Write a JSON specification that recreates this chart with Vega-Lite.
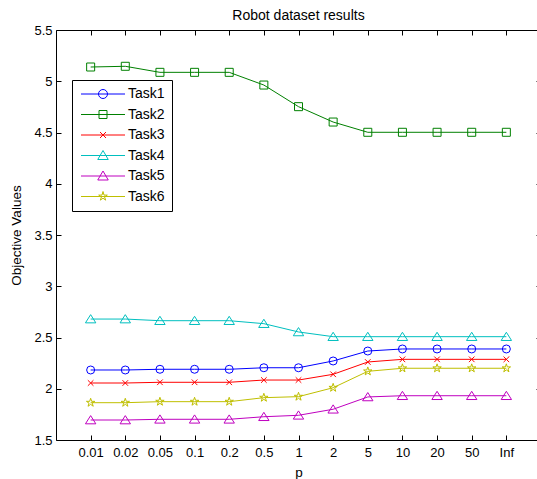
{
  "$schema": "https://vega.github.io/schema/vega-lite/v6.json",
  "width": 485,
  "height": 410,
  "autosize": {"type": "none"},
  "padding": {"left": 56, "top": 30, "right": -4, "bottom": 39},
  "background": "white",
  "title": {"text": "Robot dataset results", "fontSize": 14, "fontWeight": "normal", "font": "Liberation Sans", "color": "black", "offset": 1},
  "config": {
    "font": "Liberation Sans",
    "view": {"stroke": "black", "strokeWidth": 1},
    "axis": {"domain": false, "grid": false, "tickColor": "black", "tickSize": -5, "labelFontSize": 13, "labelColor": "black", "labelFont": "Liberation Sans", "titleFont": "Liberation Sans", "titleFontSize": 13.5, "titleFontWeight": "normal", "titleColor": "black"},
    "legend": {"orient": "none", "legendX": 16, "legendY": 50, "strokeColor": "black", "fillColor": "white", "padding": 7, "cornerRadius": 0, "labelFontSize": 14, "labelColor": "black", "labelFont": "Liberation Sans", "symbolSize": 100, "symbolOffset": 17, "labelOffset": 18, "rowPadding": 6.5, "symbolStrokeWidth": 1, "symbolOpacity": 1}
  },
  "data": {"values": [
    {"task": "Task1", "i": 1, "v": 2.183}, {"task": "Task1", "i": 2, "v": 2.183}, {"task": "Task1", "i": 3, "v": 2.19}, {"task": "Task1", "i": 4, "v": 2.19}, {"task": "Task1", "i": 5, "v": 2.19}, {"task": "Task1", "i": 6, "v": 2.205}, {"task": "Task1", "i": 7, "v": 2.205}, {"task": "Task1", "i": 8, "v": 2.271}, {"task": "Task1", "i": 9, "v": 2.368}, {"task": "Task1", "i": 10, "v": 2.388}, {"task": "Task1", "i": 11, "v": 2.388}, {"task": "Task1", "i": 12, "v": 2.388}, {"task": "Task1", "i": 13, "v": 2.388},
    {"task": "Task2", "i": 1, "v": 5.139}, {"task": "Task2", "i": 2, "v": 5.146}, {"task": "Task2", "i": 3, "v": 5.087}, {"task": "Task2", "i": 4, "v": 5.087}, {"task": "Task2", "i": 5, "v": 5.087}, {"task": "Task2", "i": 6, "v": 4.963}, {"task": "Task2", "i": 7, "v": 4.752}, {"task": "Task2", "i": 8, "v": 4.602}, {"task": "Task2", "i": 9, "v": 4.502}, {"task": "Task2", "i": 10, "v": 4.502}, {"task": "Task2", "i": 11, "v": 4.502}, {"task": "Task2", "i": 12, "v": 4.502}, {"task": "Task2", "i": 13, "v": 4.502},
    {"task": "Task3", "i": 1, "v": 2.056}, {"task": "Task3", "i": 2, "v": 2.056}, {"task": "Task3", "i": 3, "v": 2.063}, {"task": "Task3", "i": 4, "v": 2.063}, {"task": "Task3", "i": 5, "v": 2.063}, {"task": "Task3", "i": 6, "v": 2.085}, {"task": "Task3", "i": 7, "v": 2.085}, {"task": "Task3", "i": 8, "v": 2.141}, {"task": "Task3", "i": 9, "v": 2.261}, {"task": "Task3", "i": 10, "v": 2.287}, {"task": "Task3", "i": 11, "v": 2.287}, {"task": "Task3", "i": 12, "v": 2.287}, {"task": "Task3", "i": 13, "v": 2.287},
    {"task": "Task4", "i": 1, "v": 2.68}, {"task": "Task4", "i": 2, "v": 2.68}, {"task": "Task4", "i": 3, "v": 2.664}, {"task": "Task4", "i": 4, "v": 2.664}, {"task": "Task4", "i": 5, "v": 2.664}, {"task": "Task4", "i": 6, "v": 2.635}, {"task": "Task4", "i": 7, "v": 2.554}, {"task": "Task4", "i": 8, "v": 2.508}, {"task": "Task4", "i": 9, "v": 2.508}, {"task": "Task4", "i": 10, "v": 2.508}, {"task": "Task4", "i": 11, "v": 2.508}, {"task": "Task4", "i": 12, "v": 2.508}, {"task": "Task4", "i": 13, "v": 2.508},
    {"task": "Task5", "i": 1, "v": 1.695}, {"task": "Task5", "i": 2, "v": 1.695}, {"task": "Task5", "i": 3, "v": 1.702}, {"task": "Task5", "i": 4, "v": 1.702}, {"task": "Task5", "i": 5, "v": 1.702}, {"task": "Task5", "i": 6, "v": 1.727}, {"task": "Task5", "i": 7, "v": 1.741}, {"task": "Task5", "i": 8, "v": 1.8}, {"task": "Task5", "i": 9, "v": 1.92}, {"task": "Task5", "i": 10, "v": 1.932}, {"task": "Task5", "i": 11, "v": 1.932}, {"task": "Task5", "i": 12, "v": 1.932}, {"task": "Task5", "i": 13, "v": 1.932},
    {"task": "Task6", "i": 1, "v": 1.864}, {"task": "Task6", "i": 2, "v": 1.864}, {"task": "Task6", "i": 3, "v": 1.874}, {"task": "Task6", "i": 4, "v": 1.874}, {"task": "Task6", "i": 5, "v": 1.874}, {"task": "Task6", "i": 6, "v": 1.913}, {"task": "Task6", "i": 7, "v": 1.923}, {"task": "Task6", "i": 8, "v": 2.01}, {"task": "Task6", "i": 9, "v": 2.17}, {"task": "Task6", "i": 10, "v": 2.2}, {"task": "Task6", "i": 11, "v": 2.2}, {"task": "Task6", "i": 12, "v": 2.2}, {"task": "Task6", "i": 13, "v": 2.2}
  ]},
  "resolve": {"axis": {"x": "independent", "y": "independent"}, "scale": {"shape": "independent"}, "legend": {"shape": "independent", "color": "independent"}},
  "layer": [
    {
      "mark": {"type": "line", "strokeWidth": 1},
      "encoding": {
        "x": {"field": "i", "type": "quantitative", "scale": {"domain": [0, 14], "nice": false, "zero": false},
          "axis": {"orient": "bottom", "values": [1,2,3,4,5,6,7,8,9,10,11,12,13], "labelExpr": "['','0.01','0.02','0.05','0.1','0.2','0.5','1','2','5','10','20','50','Inf'][datum.value]", "title": "p", "labelPadding": 11, "titlePadding": 6}},
        "y": {"field": "v", "type": "quantitative", "scale": {"domain": [1.5, 5.5], "nice": false, "zero": false},
          "axis": {"orient": "left", "values": [1.5,2,2.5,3,3.5,4,4.5,5,5.5], "format": ".1~f", "title": "Objective Values", "labelPadding": 9, "titlePadding": 10}},
        "color": {"field": "task", "type": "nominal", "title": null,
          "scale": {"domain": ["Task1","Task2","Task3","Task4","Task5","Task6"], "range": ["#0000ff","#008000","#ff0000","#00bfbf","#bf00bf","#bfbf00"]},
          "legend": null}
      }
    },
    {
      "mark": {"type": "point", "filled": false, "size": 64, "strokeWidth": 1, "opacity": 1},
      "encoding": {
        "x": {"field": "i", "type": "quantitative", "scale": {"domain": [0, 14], "nice": false, "zero": false},
          "axis": {"orient": "top", "values": [1,2,3,4,5,6,7,8,9,10,11,12,13], "labels": false, "title": null}},
        "y": {"field": "v", "type": "quantitative", "scale": {"domain": [1.5, 5.5], "nice": false, "zero": false},
          "axis": {"orient": "right", "values": [1.5,2,2.5,3,3.5,4,4.5,5,5.5], "labels": false, "title": null}},
        "color": {"field": "task", "type": "nominal", "title": null,
          "scale": {"domain": ["Task1","Task2","Task3","Task4","Task5","Task6"], "range": ["#0000ff","#008000","#ff0000","#00bfbf","#bf00bf","#bfbf00"]},
          "legend": null},
        "shape": {"field": "task", "type": "nominal", "title": null,
          "scale": {"domain": ["Task1","Task2","Task3","Task4","Task5","Task6"], "range": ["circle", "square", "M-0.7,-0.7L0.7,0.7M-0.7,0.7L0.7,-0.7", "M0,-1.1L1.3,0.95L-1.3,0.95Z", "M0,-1.1L1.3,0.95L-1.3,0.95Z", "M0,-1.1L0.25,-0.34L1.05,-0.34L0.4,0.13L0.65,0.89L0,0.42L-0.65,0.89L-0.4,0.13L-1.05,-0.34L-0.25,-0.34Z"]},
          "legend": null}
      }
    },
    {
      "transform": [{"filter": "false"}],
      "mark": {"type": "point", "filled": false, "strokeWidth": 1, "opacity": 1},
      "encoding": {
        "x": {"field": "i", "type": "quantitative", "scale": {"domain": [0, 14], "nice": false, "zero": false}, "axis": null},
        "y": {"field": "v", "type": "quantitative", "scale": {"domain": [1.5, 5.5], "nice": false, "zero": false}, "axis": null},
        "color": {"field": "task", "type": "nominal", "title": null,
          "scale": {"domain": ["Task1","Task2","Task3","Task4","Task5","Task6"], "range": ["#0000ff","#008000","#ff0000","#00bfbf","#bf00bf","#bfbf00"]},
          "legend": {}},
        "shape": {"field": "task", "type": "nominal", "title": null,
          "scale": {"domain": ["Task1","Task2","Task3","Task4","Task5","Task6"], "range": [
            "M-4.4,0H4.4M0.9,0A0.9,0.9,0,1,1,-0.9,0A0.9,0.9,0,1,1,0.9,0",
            "M-4.4,0H4.4M-0.8,-0.8H0.8V0.8H-0.8Z",
            "M-4.4,0H4.4M-0.6,-0.6L0.6,0.6M-0.6,0.6L0.6,-0.6",
            "M-4.4,0H4.4M0,-1L1.05,0.8L-1.05,0.8Z",
            "M-4.4,0H4.4M0,-1L1.05,0.8L-1.05,0.8Z",
            "M-4.4,0H4.4M0,-1L0.2,-0.28L0.86,-0.28L0.33,0.11L0.53,0.73L0,0.34L-0.53,0.73L-0.33,0.11L-0.86,-0.28L-0.2,-0.28Z"]},
          "legend": {}}
      }
    }
  ]
}
